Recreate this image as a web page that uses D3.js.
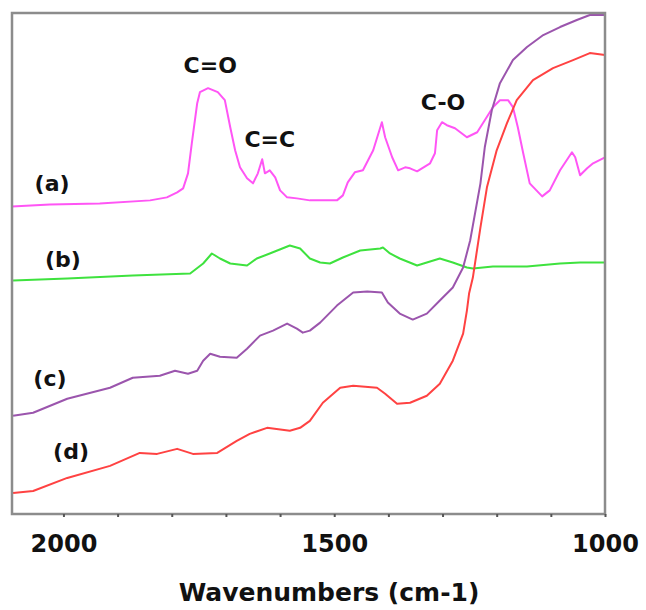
<!DOCTYPE html>
<html lang="en">
<meta charset="UTF-8">
<title>FTIR spectra</title>
<style>
  body { margin: 0; background: #fff; }
  text { font-family: "DejaVu Sans", Verdana, sans-serif; font-weight: bold; fill: #111; }
</style>
<script src="https://d3js.org/d3.v7.min.js"></script>
<body>
<div id="chart"></div>
<script>
// wavenumber (cm-1) and relative signal
var specA = [[2095,61.4],[2025,61.8],[1933,62.0],[1840,62.6],[1809,63.2],[1790,64.2],[1779,65.0],[1770,68.0],[1763,74.0],[1753,82.0],[1748,84.2],[1733,85.0],[1715,84.2],[1702,82.6],[1692,77.2],[1683,72.6],[1674,69.2],[1661,67.0],[1650,66.0],[1641,68.0],[1633,70.8],[1628,68.0],[1619,68.6],[1609,67.2],[1600,64.6],[1587,63.2],[1569,63.0],[1545,62.6],[1495,62.6],[1484,63.6],[1475,66.2],[1462,68.2],[1447,68.6],[1428,72.6],[1412,78.2],[1406,75.2],[1393,71.2],[1382,68.6],[1369,69.2],[1360,69.0],[1347,68.4],[1323,70.0],[1314,72.0],[1310,76.6],[1301,78.2],[1292,77.6],[1277,77.0],[1255,75.2],[1236,76.2],[1222,78.6],[1207,81.2],[1194,82.6],[1179,82.6],[1170,81.2],[1161,77.2],[1151,72.0],[1139,66.0],[1116,63.4],[1102,64.6],[1083,68.6],[1061,72.2],[1055,71.2],[1046,67.6],[1033,69.0],[1022,70.0],[1000,71.2]];
var specB = [[2093,46.6],[1993,47.0],[1872,47.6],[1766,48.0],[1742,50.0],[1726,52.0],[1711,51.0],[1692,50.0],[1661,49.6],[1643,51.0],[1619,52.0],[1582,53.6],[1563,53.0],[1545,51.0],[1526,50.2],[1508,50.0],[1484,51.2],[1452,52.6],[1415,53.0],[1410,53.2],[1397,52.0],[1379,51.0],[1347,49.6],[1329,50.2],[1305,51.0],[1281,50.2],[1255,49.2],[1244,49.0],[1207,49.4],[1144,49.4],[1083,50.0],[1046,50.2],[1000,50.2]];
var specC = [[2093,19.6],[2056,20.2],[1993,23.0],[1914,25.2],[1872,27.2],[1822,27.6],[1794,28.6],[1770,28.0],[1753,28.6],[1742,30.6],[1729,32.0],[1711,31.4],[1680,31.2],[1661,33.0],[1637,35.6],[1613,36.6],[1587,38.0],[1569,37.0],[1558,36.2],[1545,36.6],[1526,38.2],[1495,41.6],[1465,44.2],[1439,44.4],[1412,44.2],[1401,42.2],[1379,40.0],[1355,38.8],[1329,40.0],[1305,42.6],[1281,45.2],[1262,49.2],[1249,54.6],[1230,66.0],[1222,73.2],[1209,80.6],[1194,86.0],[1170,90.6],[1144,93.2],[1114,95.6],[1083,97.2],[1052,98.6],[1028,99.6],[1000,99.6]];
var specD = [[2093,4.2],[2056,4.6],[1993,7.2],[1914,9.6],[1859,12.2],[1827,12.0],[1790,13.0],[1761,12.0],[1716,12.2],[1680,14.6],[1656,16.0],[1624,17.2],[1582,16.6],[1563,17.2],[1545,18.6],[1521,22.2],[1489,25.2],[1465,25.6],[1421,25.2],[1406,24.0],[1384,22.0],[1360,22.2],[1329,23.6],[1305,26.0],[1281,30.6],[1262,36.0],[1255,40.6],[1251,44.0],[1244,47.2],[1230,57.2],[1218,65.2],[1200,72.6],[1181,78.0],[1163,82.6],[1133,86.6],[1096,89.0],[1059,90.6],[1028,92.0],[1000,91.6]];

var seriesNames = ["(a)", "(b)", "(c)", "(d)"];
var seriesColors = ["#ff55f5", "#3ee23e", "#9b55ad", "#ff4242"];
var bands = [{label: "C=O", wn: 1729, v: 88.0}, {label: "C=C", wn: 1619, v: 73.2}, {label: "C-O", wn: 1299, v: 80.6}];
var tickVals = [2000, 1900, 1800, 1700, 1600, 1500, 1400, 1300, 1200, 1100, 1000];
var labelTicks = [2000, 1500, 1000];

var W = 646, H = 610;
var frame = {left: 12, top: 13, right: 605, bottom: 514};

var svg = d3.select("#chart").append("svg")
    .attr("width", W)
    .attr("height", H);

// x runs backwards, as usual for IR
var x = d3.scaleLinear().domain([2095, 1000]).range([frame.left, frame.right]);
var y = d3.scaleLinear().domain([0, 100]).range([frame.bottom, frame.top]);

var line = d3.line()
    .x(function(d) { return x(d[0]); })
    .y(function(d) { return y(d[1]); });

var allSpecs = [specA, specB, specC, specD];
allSpecs.forEach(function(s, i) {
  svg.append("path")
      .datum(s)
      .attr("d", line)
      .attr("fill", "none")
      .attr("stroke", seriesColors[i])
      .attr("stroke-width", 2)
      .attr("stroke-linejoin", "round");
});

// frame
svg.append("rect")
    .attr("x", frame.left)
    .attr("y", frame.top)
    .attr("width", frame.right - frame.left)
    .attr("height", frame.bottom - frame.top)
    .attr("fill", "none")
    .attr("stroke", "#8c8c8c")
    .attr("stroke-width", 2.5);

// bottom axis: small ticks every 100, labels every 500
var xAxis = svg.append("g")
    .attr("transform", "translate(0," + frame.bottom + ")")
    .call(d3.axisBottom(x)
      .tickValues(tickVals)
      .tickSize(3)
      .tickPadding(18)
      .tickFormat(function(d) { return labelTicks.indexOf(d) >= 0 ? d : ""; }));
xAxis.select(".domain").remove();
xAxis.selectAll(".tick line").attr("stroke", "#555").attr("stroke-width", 2);
xAxis.selectAll(".tick text")
    .style("font-family", "'DejaVu Sans', Verdana, sans-serif")
    .style("font-weight", "bold")
    .style("font-size", "24px")
    .attr("fill", "#111");

svg.append("text")
    .attr("x", 329)
    .attr("y", 601)
    .attr("text-anchor", "middle")
    .style("font-size", "25px")
    .text("Wavenumbers (cm-1)");

// curve labels
var labelPos = [[2021, 64.4], [2001, 49.4], [2025, 25.6], [1986, 11.0]];
seriesNames.forEach(function(n, i) {
  svg.append("text")
      .attr("x", x(labelPos[i][0]))
      .attr("y", y(labelPos[i][1]))
      .attr("text-anchor", "middle")
      .style("font-size", "22px")
      .text(n);
});

// band assignments
bands.forEach(function(b) {
  svg.append("text")
      .attr("x", x(b.wn))
      .attr("y", y(b.v))
      .attr("text-anchor", "middle")
      .style("font-size", "22px")
      .text(b.label);
});
</script>
</body>
</html>
